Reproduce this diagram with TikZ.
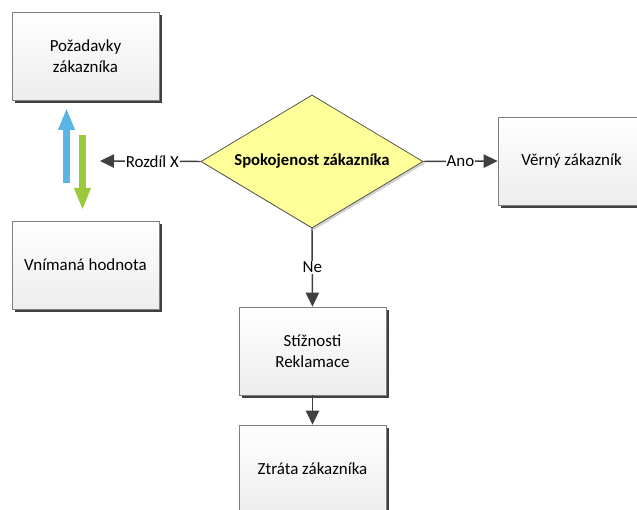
\documentclass[tikz,border=0pt]{standalone}
\usepackage{fontspec}
\setmainfont{Carlito}
\usetikzlibrary{shapes.geometric,shadows,arrows.meta}
\definecolor{edgegray}{HTML}{7F7F7F}
\definecolor{linegray}{HTML}{404040}
\definecolor{decisionfill}{HTML}{FFFF99}
\definecolor{upblue}{HTML}{5AB4E6}
\definecolor{downgreen}{HTML}{9ACA3C}
\tikzset{
  basefont/.style={font=\fontsize{12.7}{15.5}\selectfont},
  stepbox/.style={draw=edgegray, line width=0.6pt, top color=white, bottom color=black!7,
    minimum width=110.25pt, minimum height=66pt, align=center, inner sep=2pt, basefont,
    drop shadow={shadow xshift=2.4pt, shadow yshift=-2.4pt, fill=black!75, opacity=1}},
  decision/.style={diamond, draw=linegray, line width=0.5pt, fill=decisionfill, inner sep=0pt,
    minimum width=166.5pt, minimum height=99.75pt,
    drop shadow={shadow xshift=1.5pt, shadow yshift=-1.5pt, fill=black!18, opacity=1}},
  decisiontext/.style={inner sep=0pt, font=\fontsize{12.5}{15}\selectfont\bfseries},
  flow/.style={draw=linegray, line width=1.1pt, -{Triangle[length=10.5pt, width=10pt]}},
  edgelabel/.style={fill=white, inner sep=0.5pt, basefont}
}
\begin{document}
\begin{tikzpicture}[x=0.75pt, y=-0.75pt]
  \clip (0,0) rectangle (637,510);
  \fill[white] (0,0) rectangle (637,510);

  % process boxes
  \node[stepbox] (req)  at (85.5,56)   {Požadavky\\zákazníka};
  \node[stepbox] (perc) at (85.5,265)  {Vnímaná hodnota};
  \node[stepbox] (loyal) at (571.5,161) {Věrný zákazník};
  \node[stepbox] (compl) at (312.5,351) {Stížnosti\\Reklamace};
  \node[stepbox] (loss) at (312.5,469)  {Ztráta zákazníka};

  % decision
  \node[decision] (sat) at (312,161.5) {};
  \node[decisiontext] (sattext) at (sat.center) {Spokojenost zákazníka};

  % gap arrows between expectation and perception
  \coordinate (diffend) at (100,161);
  \coordinate (bluebot) at (66.5,183);
  \coordinate (bluetop) at (66.5,108);
  \coordinate (greentop) at (82.5,135);
  \coordinate (greenbot) at (82.5,210);
  \draw[upblue, line width=5.2pt, -{Triangle[length=16.5pt, width=11.5pt]}] (bluebot) -- (bluetop);
  \draw[downgreen, line width=5.2pt, -{Triangle[length=16.5pt, width=11.5pt]}] (greentop) -- (greenbot);

  % connectors
  \draw[flow] (sat.west) -- node[edgelabel, pos=0.48] {Rozdíl X} (diffend);
  \draw[flow] (sat.east) -- node[edgelabel, pos=0.5] {Ano} (loyal.west);
  \draw[flow] (sat.south) -- node[edgelabel, pos=0.5] {Ne} (compl.north);
  \draw[flow] (compl.south) -- (loss.north);
\end{tikzpicture}
\end{document}
